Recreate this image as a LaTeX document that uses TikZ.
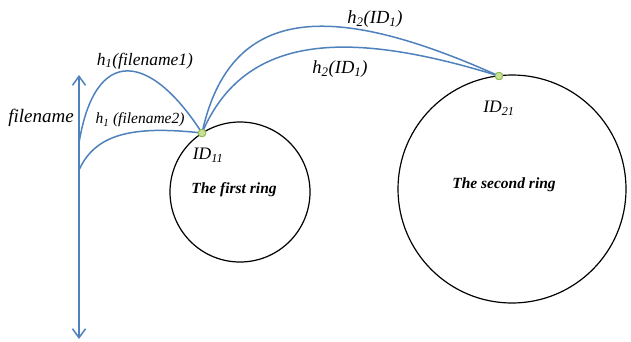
\documentclass[tikz,border=0pt]{standalone}
\usepackage{fontspec}
\setmainfont{Liberation Serif}
\usetikzlibrary{arrows.meta}
\definecolor{curveblue}{RGB}{79,129,189}
\definecolor{dotfill}{RGB}{200,225,150}
\definecolor{dotline}{RGB}{140,185,80}
\begin{document}
\begin{tikzpicture}[x=1pt,y=-1pt,
  curve/.style={draw=curveblue,line width=1.5pt},
  ring/.style={draw=black,line width=1.2pt},
  dotnode/.style={circle,fill=dotfill,draw=dotline,line width=0.8pt,inner sep=0pt,minimum size=7.5pt},
  lbl/.style={inner sep=0pt,font=\fontsize{17.5}{20}\selectfont\itshape},
  slbl/.style={inner sep=0pt,font=\fontsize{15.5}{18}\selectfont\itshape},
  rlbl/.style={inner sep=0pt,font=\fontsize{15.5}{18}\selectfont\bfseries\itshape}]
\useasboundingbox (0,0) rectangle (631,341);
% rings
\draw[ring] (240,192) circle[radius=70];
\draw[ring] (512,189) circle[radius=114];
% axis
\coordinate (atop) at (79,75);
\coordinate (abot) at (79,339);
\draw[curve,{Straight Barb[length=9pt,width=13pt]}-{Straight Barb[length=9pt,width=13pt]}] (atop) -- (abot);
\coordinate (s1) at (79,143);
\coordinate (s2) at (79,170);
\node[dotnode] (d1) at (202,133) {};
\node[dotnode] (d2) at (499,76) {};
% curves
\draw[curve] (s1) .. controls (95,45) and (150,52) .. (d1.center);
\draw[curve] (s2) .. controls (95,135) and (130,125) .. (d1.center);
\draw[curve] (d1.center) .. controls (230,5) and (330,0) .. (d2.center);
\draw[curve] (d1.center) .. controls (245,32) and (350,30) .. (d2.center);
\node[dotnode] at (d1) {};
\node[dotnode] at (d2) {};
% labels
\node[lbl,font=\fontsize{19}{22}\selectfont\itshape] (lf) at (41,118) {filename};
\node[lbl] (lh1) at (145,61) {h\textsubscript{1}(filename1)};
\node[slbl] (lh2) at (140,120) {h\textsubscript{1} (filename2)};
\node[lbl,font=\fontsize{18.5}{22}\selectfont\itshape] (lh3) at (375,19) {h\textsubscript{2}(ID\textsubscript{1})};
\node[lbl,font=\fontsize{18.5}{22}\selectfont\itshape] (lh4) at (340,69) {h\textsubscript{2}(ID\textsubscript{1})};
\node[lbl] (lid1) at (208,155) {ID\textsubscript{11}};
\node[lbl] (lid2) at (499,108) {ID\textsubscript{21}};
\node[rlbl] (r1) at (234,190) {The first ring};
\node[rlbl] (r2) at (504,185) {The second ring};
\end{tikzpicture}
\end{document}
